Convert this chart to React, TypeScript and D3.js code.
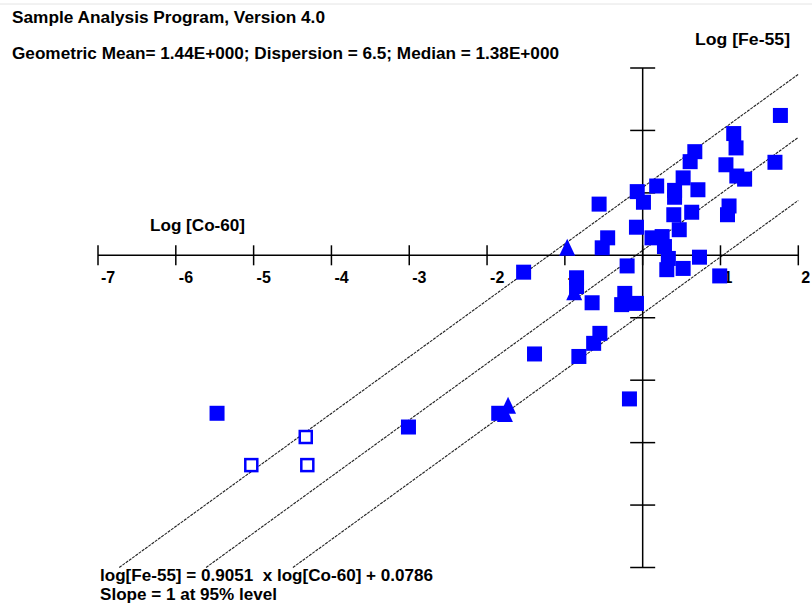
import * as d3 from "d3";

// log values
const filledX = [1.77, 1.17, 1.2, 0.67, 0.61, 0.52, 1.07, 1.7, 1.21, 1.31, 0.18, -0.07, 0.41, 0.41, 0.71, -0.56, 0.01, 1.11, 1.09, 0.4, 0.63, -0.08, 0.47, -0.45, -0.52, 0.12, 0.25, 0.28, 0.33, 0.31, 0.52, 0.73, -0.2, 0.99, -0.85, -0.85, -1.53, -0.65, -0.23, -0.27, -0.08, -0.55, -0.63, -0.82, -1.39, -0.17, -1.85, -3.01, -5.47];
const filledY = [2.24, 1.95, 1.72, 1.66, 1.5, 1.24, 1.45, 1.49, 1.27, 1.22, 1.11, 1.02, 1.04, 0.93, 1.05, 0.82, 0.85, 0.79, 0.65, 0.65, 0.69, 0.45, 0.41, 0.28, 0.12, 0.28, 0.3, 0.14, -0.05, -0.23, -0.21, -0.03, -0.17, -0.33, -0.36, -0.5, -0.27, -0.76, -0.61, -0.79, -0.77, -1.25, -1.41, -1.62, -1.58, -2.3, -2.53, -2.75, -2.53];
const hollowX = [-4.33, -5.03, -4.31];
const hollowY = [-2.91, -3.36, -3.36];
const triX = [-0.97, -0.88, -1.73, -1.77];
const triY = [0.12, -0.59, -2.41, -2.54];

const xTicks = [-7, -6, -5, -4, -3, -2, -1, 0, 1, 2];
const xTickLabels = ["-7", "-6", "-5", "-4", "-3", "-2", "-1", "", "1", "2"];
const yTicks = [-5, -4, -3, -2, -1, 0, 1, 2, 3];

const slope = 0.9051;
const intercept = 0.0786;
const bandOffsets = [1.01, 0, -1.01];

const W = 812;
const H = 605;
const font = "'Liberation Sans', Arial, sans-serif";
const blue = "#0000ff";

export default function App() {
  const x = d3.scaleLinear().domain([-7, 2]).range([98, 798.3]);
  const y = d3.scaleLinear().domain([-5, 3]).range([567.5, 68]);

  // each fit line runs from y=-5 up to x=2
  const fitLines = bandOffsets.map((off) => {
    const b = intercept + off;
    const x0 = (-5 - b) / slope;
    const line = d3.line<number[]>().x((d) => x(d[0])).y((d) => y(d[1]));
    return line([[x0, -5], [2, slope * 2 + b]]);
  });

  const tri = (cx: number, cy: number) =>
    `M${cx},${cy - 9}L${cx + 8},${cy + 8}L${cx - 8},${cy + 8}Z`;

  return (
    <svg width={W} height={H} style={{ position: "absolute", left: 0, top: 0, background: "#fff" }}>
      <line x1={0} x2={W} y1={4} y2={4} stroke="#e4e4e4" />
      <g fontFamily={font} fontWeight="bold" fontSize={16} fill="#000">
        <text x={12} y={23} textLength={313} lengthAdjust="spacingAndGlyphs">Sample Analysis Program, Version 4.0</text>
        <text x={12} y={59} textLength={547} lengthAdjust="spacingAndGlyphs">Geometric Mean= 1.44E+000; Dispersion = 6.5; Median = 1.38E+000</text>
        <text x={695} y={45} textLength={95} lengthAdjust="spacingAndGlyphs">Log [Fe-55]</text>
        <text x={150} y={231} textLength={95} lengthAdjust="spacingAndGlyphs">Log [Co-60]</text>
        <text x={100} y={581} textLength={333} lengthAdjust="spacingAndGlyphs" style={{ whiteSpace: "pre" }}>log[Fe-55] = 0.9051  x log[Co-60] + 0.0786</text>
        <text x={100} y={600} textLength={177} lengthAdjust="spacingAndGlyphs">Slope = 1 at 95% level</text>
      </g>

      {fitLines.map((d, i) => (
        <path key={i} d={d ?? ""} fill="none" stroke="#222" strokeWidth={1.1} strokeDasharray="3 1" />
      ))}

      {/* axes */}
      <g stroke="#000" strokeWidth={1.5}>
        <line x1={x(-7)} x2={x(2)} y1={y(0)} y2={y(0)} />
        {xTicks.map((t) => (
          <line key={t} x1={x(t)} x2={x(t)} y1={y(0) - 10} y2={y(0) + 10} />
        ))}
        <line x1={x(0)} x2={x(0)} y1={y(3)} y2={y(-5)} />
        {yTicks.filter((t) => t !== 0).map((t) => (
          <line key={t} x1={x(0) - 12.5} x2={x(0) + 12.5} y1={y(t)} y2={y(t)} />
        ))}
      </g>
      <g fontFamily={font} fontWeight="bold" fontSize={16}>
        {xTicks.map((t, i) => (
          <text key={t} x={x(t) + 3} y={y(0) + 28}>{xTickLabels[i]}</text>
        ))}
      </g>

      {/* markers */}
      {filledX.map((v, i) => (
        <rect key={"f" + i} x={x(v) - 7.5} y={y(filledY[i]) - 7.5} width={15} height={15} fill={blue} />
      ))}
      {hollowX.map((v, i) => (
        <rect key={"h" + i} x={x(v) - 6} y={y(hollowY[i]) - 6} width={12} height={12} fill="#fff" stroke={blue} strokeWidth={2.5} />
      ))}
      {triX.map((v, i) => (
        <path key={"t" + i} d={tri(x(v), y(triY[i]))} fill={blue} />
      ))}
    </svg>
  );
}
